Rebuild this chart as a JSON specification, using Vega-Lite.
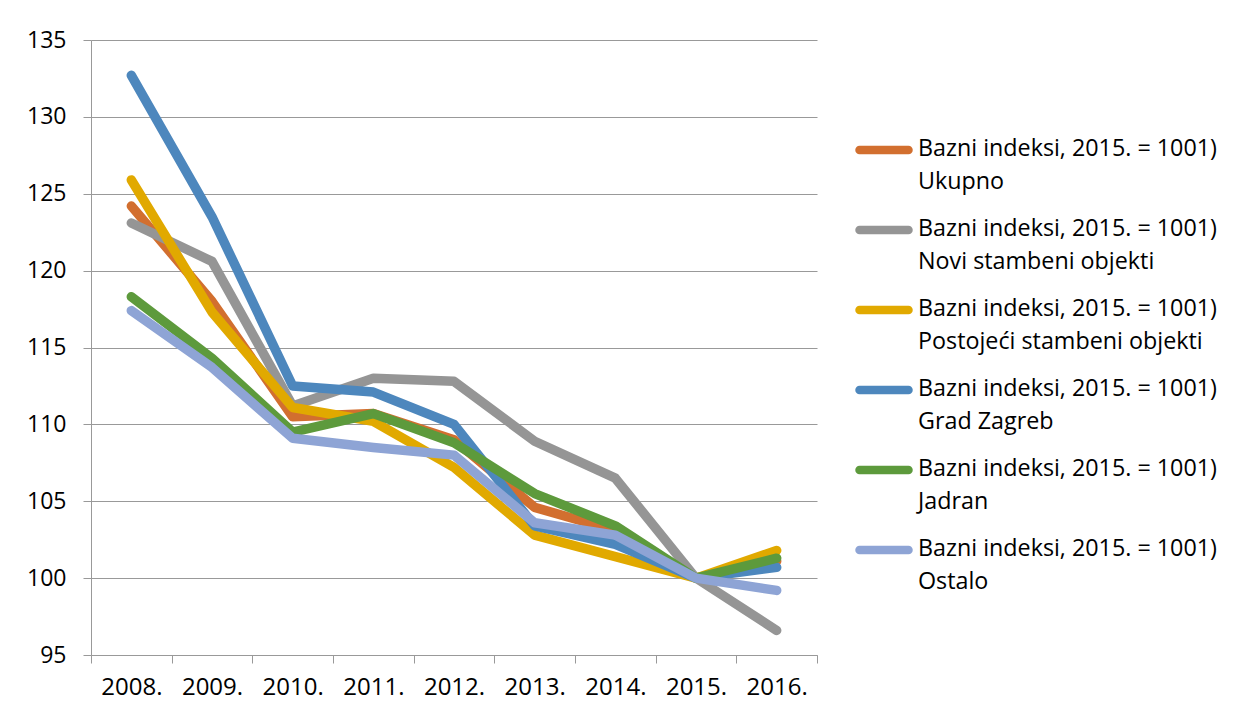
{
  "$schema": "https://vega.github.io/schema/vega-lite/v6.json",
  "width": 726,
  "height": 615,
  "autosize": {"type": "none"},
  "padding": {"left": 91, "top": 40, "right": 416, "bottom": 60},
  "background": "white",
  "config": {
    "view": {"stroke": null},
    "font": "Open Sans"
  },
  "data": {
    "values": [
      {"year": "2008.", "series": "Ukupno", "value": 124.2},
      {"year": "2009.", "series": "Ukupno", "value": 118.0},
      {"year": "2010.", "series": "Ukupno", "value": 110.5},
      {"year": "2011.", "series": "Ukupno", "value": 110.7},
      {"year": "2012.", "series": "Ukupno", "value": 109.0},
      {"year": "2013.", "series": "Ukupno", "value": 104.6},
      {"year": "2014.", "series": "Ukupno", "value": 103.1},
      {"year": "2015.", "series": "Ukupno", "value": 100.0},
      {"year": "2016.", "series": "Ukupno", "value": 101.1},
      {"year": "2008.", "series": "Novi stambeni objekti", "value": 123.1},
      {"year": "2009.", "series": "Novi stambeni objekti", "value": 120.6},
      {"year": "2010.", "series": "Novi stambeni objekti", "value": 111.2},
      {"year": "2011.", "series": "Novi stambeni objekti", "value": 113.0},
      {"year": "2012.", "series": "Novi stambeni objekti", "value": 112.8},
      {"year": "2013.", "series": "Novi stambeni objekti", "value": 108.9},
      {"year": "2014.", "series": "Novi stambeni objekti", "value": 106.5},
      {"year": "2015.", "series": "Novi stambeni objekti", "value": 100.0},
      {"year": "2016.", "series": "Novi stambeni objekti", "value": 96.6},
      {"year": "2008.", "series": "Postojeći stambeni objekti", "value": 125.9},
      {"year": "2009.", "series": "Postojeći stambeni objekti", "value": 117.3},
      {"year": "2010.", "series": "Postojeći stambeni objekti", "value": 111.1},
      {"year": "2011.", "series": "Postojeći stambeni objekti", "value": 110.2},
      {"year": "2012.", "series": "Postojeći stambeni objekti", "value": 107.2},
      {"year": "2013.", "series": "Postojeći stambeni objekti", "value": 102.8},
      {"year": "2014.", "series": "Postojeći stambeni objekti", "value": 101.4},
      {"year": "2015.", "series": "Postojeći stambeni objekti", "value": 100.0},
      {"year": "2016.", "series": "Postojeći stambeni objekti", "value": 101.8},
      {"year": "2008.", "series": "Grad Zagreb", "value": 132.7},
      {"year": "2009.", "series": "Grad Zagreb", "value": 123.5},
      {"year": "2010.", "series": "Grad Zagreb", "value": 112.5},
      {"year": "2011.", "series": "Grad Zagreb", "value": 112.1},
      {"year": "2012.", "series": "Grad Zagreb", "value": 110.0},
      {"year": "2013.", "series": "Grad Zagreb", "value": 103.4},
      {"year": "2014.", "series": "Grad Zagreb", "value": 102.2},
      {"year": "2015.", "series": "Grad Zagreb", "value": 100.0},
      {"year": "2016.", "series": "Grad Zagreb", "value": 100.7},
      {"year": "2008.", "series": "Jadran", "value": 118.3},
      {"year": "2009.", "series": "Jadran", "value": 114.3},
      {"year": "2010.", "series": "Jadran", "value": 109.5},
      {"year": "2011.", "series": "Jadran", "value": 110.7},
      {"year": "2012.", "series": "Jadran", "value": 108.8},
      {"year": "2013.", "series": "Jadran", "value": 105.5},
      {"year": "2014.", "series": "Jadran", "value": 103.4},
      {"year": "2015.", "series": "Jadran", "value": 100.0},
      {"year": "2016.", "series": "Jadran", "value": 101.3},
      {"year": "2008.", "series": "Ostalo", "value": 117.4},
      {"year": "2009.", "series": "Ostalo", "value": 113.7},
      {"year": "2010.", "series": "Ostalo", "value": 109.1},
      {"year": "2011.", "series": "Ostalo", "value": 108.5},
      {"year": "2012.", "series": "Ostalo", "value": 108.0},
      {"year": "2013.", "series": "Ostalo", "value": 103.6},
      {"year": "2014.", "series": "Ostalo", "value": 102.8},
      {"year": "2015.", "series": "Ostalo", "value": 100.0},
      {"year": "2016.", "series": "Ostalo", "value": 99.2}
    ]
  },
  "mark": {"type": "line", "strokeWidth": 9.5, "strokeCap": "round", "strokeJoin": "round"},
  "encoding": {
    "x": {
      "field": "year",
      "type": "ordinal",
      "scale": {"type": "band", "paddingInner": 0, "paddingOuter": 0},
      "axis": {
        "title": null,
        "labelAngle": 0,
        "tickBand": "extent",
        "grid": false,
        "domainColor": "#999999",
        "tickColor": "#999999",
        "tickSize": 8,
        "labelFont": "Open Sans",
        "labelFontSize": 24,
        "labelColor": "#000000",
        "labelPadding": 12
      }
    },
    "y": {
      "field": "value",
      "type": "quantitative",
      "scale": {"domain": [95, 135], "nice": false, "zero": false},
      "axis": {
        "title": null,
        "values": [95, 100, 105, 110, 115, 120, 125, 130, 135],
        "grid": true,
        "gridColor": "#999999",
        "domainColor": "#999999",
        "tickColor": "#999999",
        "tickSize": 8,
        "labelFont": "Open Sans",
        "labelFontSize": 23,
        "labelColor": "#000000",
        "labelPadding": 17
      }
    },
    "color": {
      "field": "series",
      "type": "nominal",
      "scale": {
        "domain": ["Ukupno", "Novi stambeni objekti", "Postojeći stambeni objekti", "Grad Zagreb", "Jadran", "Ostalo"],
        "range": ["#D26F2F", "#959595", "#E1A900", "#4D87BD", "#5D9A3C", "#8EA4D5"]
      },
      "legend": {
        "title": null,
        "orient": "none",
        "legendX": 764,
        "legendY": 81,
        "symbolType": "stroke",
        "symbolSize": 2401,
        "symbolStrokeWidth": 8.5,
        "labelExpr": "['Bazni indeksi, 2015. = 1001)', datum.label]",
        "labelFont": "Open Sans",
        "labelFontSize": 23.3,
        "labelColor": "#000000",
        "labelLimit": 400,
        "labelOffset": 5,
        "labelBaseline": "top",
        "rowPadding": 7,
        "encode": {
          "symbols": {"update": {"strokeCap": {"value": "round"}}},
          "labels": {"update": {"dy": {"value": -12}, "lineHeight": {"value": 33}}}
        }
      }
    }
  }
}
